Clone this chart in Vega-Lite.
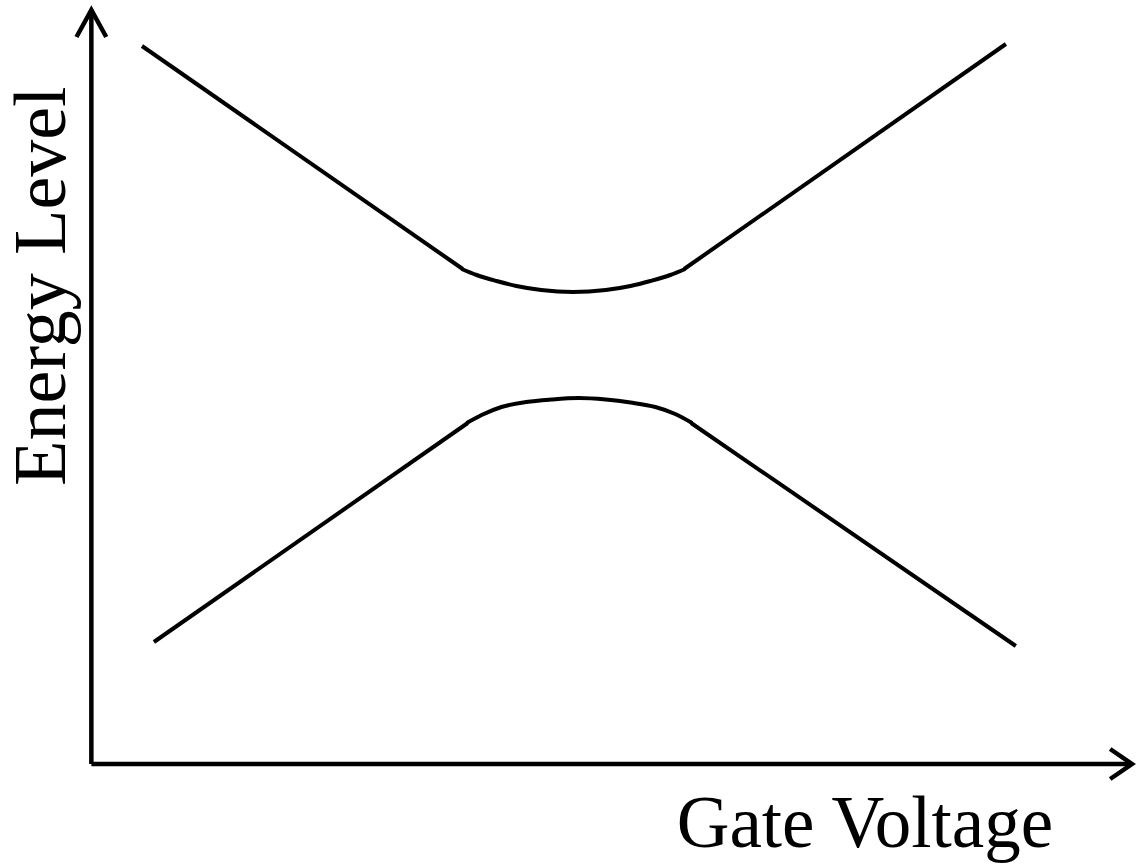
{
  "$schema": "https://vega.github.io/schema/vega-lite/v6.json",
  "width": 1141,
  "height": 864,
  "autosize": {"type": "fit", "contains": "padding"},
  "padding": 0,
  "background": "white",
  "config": {"view": {"stroke": null}},
  "datasets": {
    "frame": [
      {"part": "y-axis", "i": 0, "v": 0, "e": 0},
      {"part": "y-axis", "i": 1, "v": 0, "e": 7.54},
      {"part": "x-axis", "i": 0, "v": 0, "e": 0},
      {"part": "x-axis", "i": 1, "v": 10.48, "e": 0},
      {"part": "y-head", "i": 0, "v": -0.15, "e": 7.27},
      {"part": "y-head", "i": 1, "v": 0, "e": 7.54},
      {"part": "y-head", "i": 2, "v": 0.15, "e": 7.27},
      {"part": "x-head", "i": 0, "v": 10.26, "e": 0.15},
      {"part": "x-head", "i": 1, "v": 10.48, "e": 0},
      {"part": "x-head", "i": 2, "v": 10.26, "e": -0.15}
    ],
    "levels": [
      {"branch": "upper-left", "v": 0.51, "e": 7.18},
      {"branch": "upper-left", "v": 3.74, "e": 4.95},
      {"branch": "upper-arc", "v": 3.73, "e": 4.95},
      {"branch": "upper-arc", "v": 3.88, "e": 4.89},
      {"branch": "upper-arc", "v": 4.08, "e": 4.83},
      {"branch": "upper-arc", "v": 4.28, "e": 4.78},
      {"branch": "upper-arc", "v": 4.53, "e": 4.74},
      {"branch": "upper-arc", "v": 4.85, "e": 4.72},
      {"branch": "upper-arc", "v": 5.18, "e": 4.74},
      {"branch": "upper-arc", "v": 5.43, "e": 4.78},
      {"branch": "upper-arc", "v": 5.63, "e": 4.83},
      {"branch": "upper-arc", "v": 5.83, "e": 4.89},
      {"branch": "upper-arc", "v": 5.98, "e": 4.95},
      {"branch": "upper-right", "v": 5.97, "e": 4.95},
      {"branch": "upper-right", "v": 9.21, "e": 7.20},
      {"branch": "lower-left", "v": 0.63, "e": 1.22},
      {"branch": "lower-left", "v": 3.79, "e": 3.41},
      {"branch": "lower-arc", "v": 3.78, "e": 3.41},
      {"branch": "lower-arc", "v": 3.93, "e": 3.49},
      {"branch": "lower-arc", "v": 4.13, "e": 3.57},
      {"branch": "lower-arc", "v": 4.38, "e": 3.62},
      {"branch": "lower-arc", "v": 4.63, "e": 3.645},
      {"branch": "lower-arc", "v": 4.91, "e": 3.66},
      {"branch": "lower-arc", "v": 5.18, "e": 3.645},
      {"branch": "lower-arc", "v": 5.43, "e": 3.615},
      {"branch": "lower-arc", "v": 5.68, "e": 3.57},
      {"branch": "lower-arc", "v": 5.88, "e": 3.50},
      {"branch": "lower-arc", "v": 6.05, "e": 3.41},
      {"branch": "lower-right", "v": 6.04, "e": 3.41},
      {"branch": "lower-right", "v": 9.31, "e": 1.18}
    ]
  },
  "encoding": {
    "x": {"field": "v", "type": "quantitative", "axis": null,
          "scale": {"domain": [-0.92, 10.49], "nice": false, "zero": false}},
    "y": {"field": "e", "type": "quantitative", "axis": null,
          "scale": {"domain": [-1.0, 7.64], "nice": false, "zero": false}}
  },
  "layer": [
    {
      "data": {"name": "frame"},
      "mark": {"type": "line", "color": "black", "strokeWidth": 4.5, "strokeJoin": "miter", "strokeCap": "butt"},
      "encoding": {
        "detail": {"field": "part", "type": "nominal"},
        "order": {"field": "i", "type": "quantitative"}
      }
    },
    {
      "data": {"name": "levels"},
      "mark": {"type": "line", "color": "black", "strokeWidth": 4, "interpolate": "monotone", "strokeCap": "butt"},
      "encoding": {
        "detail": {"field": "branch", "type": "nominal"}
      }
    },
    {
      "data": {"values": [{"label": "Energy Level", "v": -0.265, "e": 4.78}]},
      "mark": {"type": "text", "font": "Liberation Serif", "fontSize": 74, "color": "black", "align": "center", "baseline": "alphabetic", "angle": 270},
      "encoding": {"text": {"field": "label", "type": "nominal"}}
    },
    {
      "data": {"values": [{"label": "Gate Voltage", "v": 7.79, "e": -0.83}]},
      "mark": {"type": "text", "font": "Liberation Serif", "fontSize": 73, "color": "black", "align": "center", "baseline": "alphabetic"},
      "encoding": {"text": {"field": "label", "type": "nominal"}}
    }
  ]
}
